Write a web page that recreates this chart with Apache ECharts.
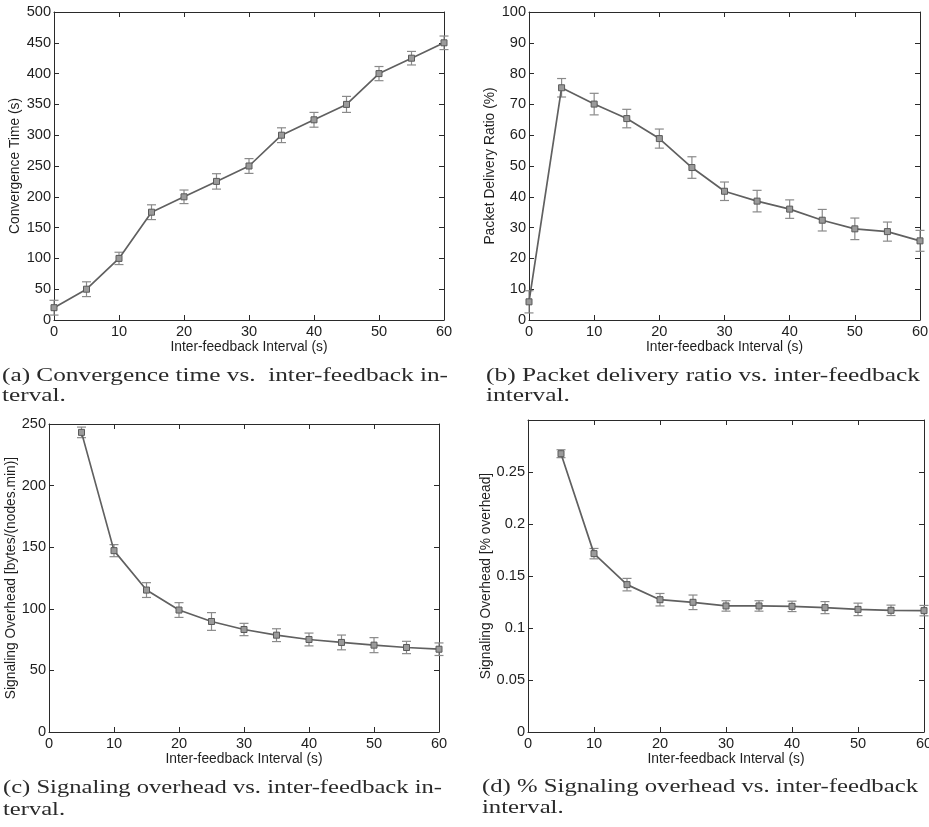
<!DOCTYPE html>
<html>
<head>
<meta charset="utf-8">
<script src="https://cdn.jsdelivr.net/npm/echarts@6/dist/echarts.min.js"></script>
<style>
html,body{margin:0;padding:0;background:#fff;}
#chart{width:929px;height:827px;}
</style>
</head>
<body>
<div id="chart"></div>
<script>
// ---------- data ----------
const xAll = [0, 5, 10, 15, 20, 25, 30, 35, 40, 45, 50, 55, 60];
const convTime = [20, 50, 100, 175, 200, 225, 250, 300, 325, 350, 400, 425, 450];
const convErr = [12, 12, 10, 12, 11, 12.5, 12, 12, 12, 13, 11.5, 11, 11];

const pdr = [5.9, 75.4, 70.1, 65.4, 58.9, 49.5, 41.8, 38.6, 36.0, 32.4, 29.6, 28.7, 25.7];
const pdrErr = [3.6, 3, 3.5, 3, 3.1, 3.5, 3, 3.5, 3, 3.5, 3.5, 3.1, 3.4];

const xFrom5 = [5, 10, 15, 20, 25, 30, 35, 40, 45, 50, 55, 60];
const sigBytes = [243.2, 147.2, 115.2, 99.0, 89.7, 83.2, 78.6, 75.1, 72.7, 70.5, 68.6, 67.2];
const sigBytesErr = [4.3, 4.9, 6, 6, 7.2, 5, 5.2, 5.2, 6, 6.1, 5, 5.1];

const sigPct = [0.2676, 0.1715, 0.1417, 0.1272, 0.1247, 0.1212, 0.1212, 0.1208, 0.1196, 0.1179, 0.1170, 0.1167];
const sigPctErr = [0.0038, 0.005, 0.006, 0.006, 0.007, 0.005, 0.005, 0.005, 0.0058, 0.006, 0.005, 0.005];

const xAxisTitle = 'Inter-feedback Interval (s)';
const yTitles = ['Convergence Time (s)', 'Packet Delivery Ratio (%)', 'Signaling Overhead [bytes/(nodes.min)]', 'Signaling Overhead [% overhead]'];
const captions = [
  ['(a) Convergence time vs.  inter-feedback in-', 'terval.'],
  ['(b) Packet delivery ratio vs. inter-feedback', 'interval.'],
  ['(c) Signaling overhead vs. inter-feedback in-', 'terval.'],
  ['(d) % Signaling overhead vs. inter-feedback', 'interval.']
];

// ---------- layout/style ----------
const grids = [
  {left: 54, top: 12, width: 390, height: 308},
  {left: 529, top: 12, width: 391, height: 308},
  {left: 49, top: 424, width: 390, height: 308},
  {left: 528, top: 420, width: 396, height: 312}
];
const yRanges = [
  {min: 0, max: 500, interval: 50},
  {min: 0, max: 100, interval: 10},
  {min: 0, max: 250, interval: 50},
  {min: 0, max: 0.3, interval: 0.05}
];
const yNameGaps = [32, 32, 31, 35];
const captionPos = [
  {x: 2, w: 446, y1: 376, y2: 396},
  {x: 486, w: 434, y1: 376, y2: 396},
  {x: 3, w: 439, y1: 788, y2: 810},
  {x: 482, w: 436, y1: 787, y2: 808}
];
const sets = [
  {xs: xAll, ys: convTime, es: convErr},
  {xs: xAll, ys: pdr, es: pdrErr},
  {xs: xFrom5, ys: sigBytes, es: sigBytesErr},
  {xs: xFrom5, ys: sigPct, es: sigPctErr}
];

const FS = 13.8;
const TFS = 14.6;
const sans = '"Liberation Sans", Arial, sans-serif';
const axisCol = '#2a2a2a';
const textCol = '#1e1e1e';

const xAxes = [], yAxes = [], series = [];
grids.forEach((g, i) => {
  const commonX = {
    gridIndex: i, type: 'value', min: 0, max: 60, interval: 10,
    splitLine: {show: false},
    axisLine: {show: true, onZero: false, lineStyle: {color: axisCol, width: 1}},
    axisTick: {show: true, inside: true, length: 5, lineStyle: {color: axisCol}},
  };
  xAxes.push(Object.assign({}, commonX, {
    position: 'bottom',
    name: xAxisTitle, nameLocation: 'middle', nameGap: 19,
    nameTextStyle: {fontFamily: sans, fontSize: FS, color: textCol},
    axisLabel: {show: true, margin: 4, fontFamily: sans, fontSize: TFS, color: textCol}
  }));
  xAxes.push(Object.assign({}, commonX, {position: 'top', axisLabel: {show: false}}));
  const r = yRanges[i];
  const commonY = {
    gridIndex: i, type: 'value', min: r.min, max: r.max, interval: r.interval,
    splitLine: {show: false},
    axisLine: {show: true, onZero: false, lineStyle: {color: axisCol, width: 1}},
    axisTick: {show: true, inside: true, length: 5, lineStyle: {color: axisCol}},
  };
  yAxes.push(Object.assign({}, commonY, {
    position: 'left',
    name: yTitles[i], nameLocation: 'middle', nameGap: yNameGaps[i],
    nameTextStyle: {fontFamily: sans, fontSize: FS, color: textCol},
    axisLabel: {
      show: true, margin: 3, fontFamily: sans, fontSize: TFS, color: textCol,
      formatter: (v) => (i === 3 && v > 0.29) ? '' : String(Number(v.toFixed(3)))
    }
  }));
  yAxes.push(Object.assign({}, commonY, {position: 'right', axisLabel: {show: false}}));

  const s = sets[i];
  const errData = s.xs.map((x, k) => [x, s.ys[k] - s.es[k], s.ys[k] + s.es[k]]);
  series.push({
    type: 'custom',
    xAxisIndex: i * 2, yAxisIndex: i * 2,
    data: errData,
    clip: false,
    z: 1,
    renderItem: (params, api) => {
      const x = api.value(0);
      const lo = api.coord([x, api.value(1)]);
      const hi = api.coord([x, api.value(2)]);
      const cw = 4.5;
      const st = {stroke: '#8a8a8a', lineWidth: 1.2, fill: null};
      return {
        type: 'group',
        children: [
          {type: 'line', shape: {x1: lo[0], y1: lo[1], x2: hi[0], y2: hi[1]}, style: st},
          {type: 'line', shape: {x1: lo[0] - cw, y1: lo[1], x2: lo[0] + cw, y2: lo[1]}, style: st},
          {type: 'line', shape: {x1: hi[0] - cw, y1: hi[1], x2: hi[0] + cw, y2: hi[1]}, style: st}
        ]
      };
    }
  });
  series.push({
    type: 'line',
    xAxisIndex: i * 2, yAxisIndex: i * 2,
    data: s.xs.map((x, k) => [x, s.ys[k]]),
    symbol: 'rect', symbolSize: 6,
    showSymbol: true,
    clip: false,
    z: 3,
    lineStyle: {color: '#606060', width: 1.7},
    itemStyle: {color: '#9a9a9a', borderColor: '#5a5a5a', borderWidth: 1},
    emphasis: {disabled: true},
    animation: false
  });
});

// captions (serif), stretched horizontally to the measured line width
const serif = '"Liberation Serif", "Times New Roman", serif';
const CFS = 19;
const cv = document.createElement('canvas').getContext('2d');
cv.font = CFS + 'px ' + serif;
const graphics = [];
captions.forEach((lines, i) => {
  const p = captionPos[i];
  const w1 = cv.measureText(lines[0]).width;
  const sx = p.w / w1;
  graphics.push({
    type: 'text', x: p.x, y: p.y1, scaleX: sx, silent: true,
    style: {text: lines[0], x: 0, y: 0, font: CFS + 'px ' + serif, fill: '#2a2a2a', verticalAlign: 'middle', align: 'left'}
  });
  graphics.push({
    type: 'text', x: p.x, y: p.y2, scaleX: sx, silent: true,
    style: {text: lines[1], x: 0, y: 0, font: CFS + 'px ' + serif, fill: '#2a2a2a', verticalAlign: 'middle', align: 'left'}
  });
});

const chart = echarts.init(document.getElementById('chart'), null, {renderer: 'canvas'});
chart.setOption({
  backgroundColor: '#ffffff',
  animation: false,
  grid: grids.map(g => Object.assign({containLabel: false, outerBoundsMode: 'none'}, g)),
  xAxis: xAxes,
  yAxis: yAxes,
  series: series,
  graphic: graphics
});
</script>
</body>
</html>
